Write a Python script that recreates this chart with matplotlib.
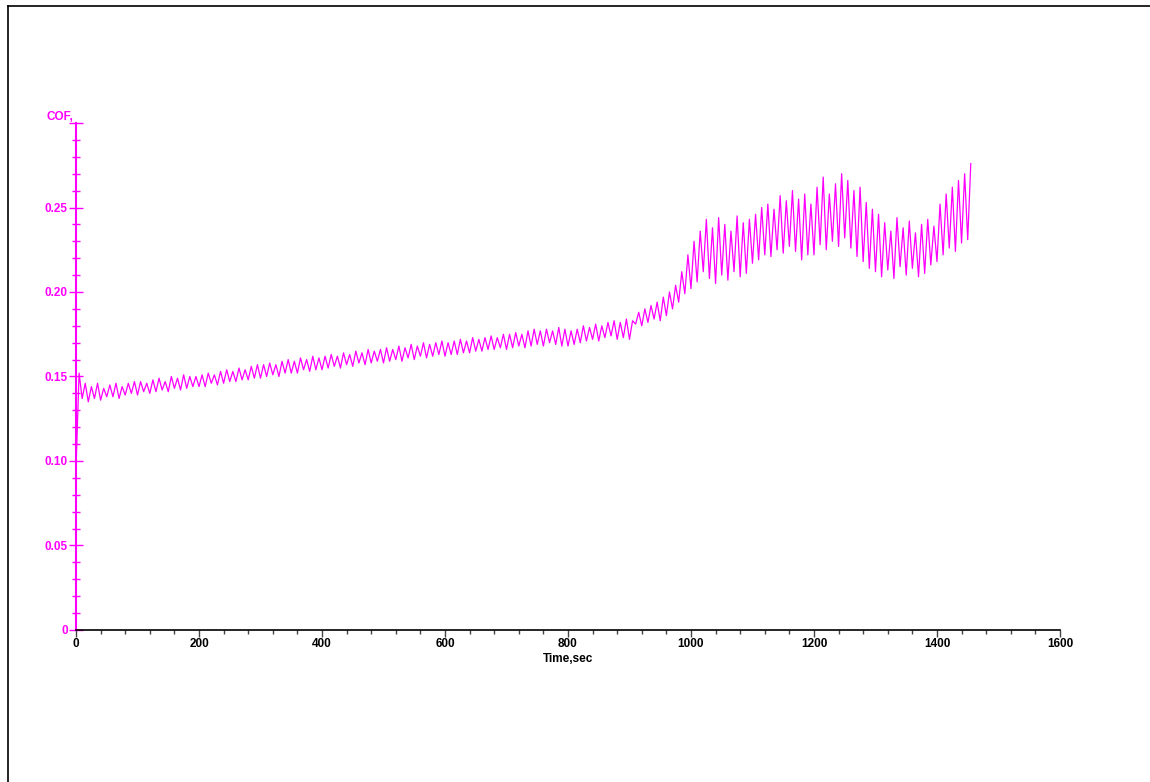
import numpy as np
import matplotlib.pyplot as plt
from matplotlib.ticker import MultipleLocator, FuncFormatter
from matplotlib.lines import Line2D

plt.rcParams['font.family'] = ['Liberation Sans', 'DejaVu Sans']

# time base of the readings (s), one high/low pair every 10 s
t_read = list(range(0, 1460, 10))

# upper peaks of the COF trace
cof_hi = [.152, .146, .144, .146, .143, .145, .146, .144, .146, .147,
          .147, .146, .148, .149, .147, .150, .149, .151, .150, .150,
          .151, .152, .151, .153, .154, .153, .155, .154, .156, .157,
          .157, .158, .157, .159, .160, .159, .161, .160, .162, .161,
          .162, .163, .162, .164, .163, .165, .164, .166, .165, .166,
          .167, .166, .168, .167, .169, .168, .170, .169, .170, .171,
          .170, .171, .172, .171, .173, .172, .173, .174, .173, .175,
          .175, .176, .175, .177, .178, .177, .178, .177, .179, .178,
          .177, .178, .180, .179, .181, .180, .182, .183, .182, .184,
          .183, .188, .190, .192, .194, .197, .200, .204, .212, .222,
          .230, .236, .243, .238, .244, .240, .236, .245, .241, .243,
          .246, .250, .252, .249, .257, .254, .260, .255, .258, .252,
          .262, .268, .258, .264, .270, .266, .260, .262, .253, .249,
          .246, .241, .236, .244, .238, .242, .235, .240, .243, .239,
          .252, .258, .262, .266, .270, .276]

# lower troughs of the COF trace
cof_lo = [.096, .137, .135, .137, .136, .138, .138, .137, .139, .140,
          .139, .141, .140, .141, .142, .141, .143, .142, .143, .144,
          .144, .144, .146, .145, .146, .147, .147, .148, .148, .149,
          .149, .150, .151, .150, .152, .152, .152, .154, .153, .154,
          .154, .155, .156, .155, .157, .156, .158, .157, .158, .159,
          .158, .159, .160, .159, .161, .160, .162, .161, .162, .163,
          .162, .163, .163, .164, .164, .165, .165, .166, .166, .167,
          .166, .167, .168, .167, .168, .169, .168, .170, .169, .168,
          .168, .169, .170, .171, .172, .171, .173, .174, .172, .173,
          .172, .181, .180, .182, .184, .183, .186, .190, .194, .199,
          .202, .206, .212, .208, .205, .210, .207, .212, .209, .211,
          .217, .219, .222, .221, .225, .223, .227, .224, .219, .222,
          .222, .228, .225, .230, .227, .232, .226, .221, .218, .214,
          .212, .209, .213, .208, .215, .210, .214, .209, .211, .216,
          .218, .222, .226, .224, .229, .231]

# zigzag: trough at each reading time, peak half a step later
t_zig = []
cof_zig = []
for t, h, l in zip(t_read, cof_hi, cof_lo):
    t_zig += [t, t + 5]
    cof_zig += [l, h]

fig = plt.figure(figsize=(11.5, 7.82), dpi=100)
ax = fig.add_axes([0.0661, 0.1944, 0.8556, 0.6483])

ax.plot(t_zig, cof_zig, color='#ff00ff', lw=0.9)

ax.set_xlim(0, 1600)
ax.set_ylim(0, 0.3)

for s in ['top', 'right']:
    ax.spines[s].set_visible(False)
ax.spines['left'].set_color('#ff00ff')
ax.spines['left'].set_linewidth(1.5)
ax.spines['bottom'].set_color('black')
ax.spines['bottom'].set_linewidth(1.2)

ax.xaxis.set_major_locator(MultipleLocator(200))
ax.xaxis.set_minor_locator(MultipleLocator(40))
ax.yaxis.set_major_locator(MultipleLocator(0.05))
ax.yaxis.set_minor_locator(MultipleLocator(0.01))

ax.yaxis.set_major_formatter(FuncFormatter(
    lambda v, p: '0' if abs(v) < 1e-9 else ('' if v > 0.29 else '%.2f' % v)))

ax.tick_params(axis='x', which='major', direction='out', length=5, width=1,
               color='#444444', labelsize=8.5, pad=1)
ax.tick_params(axis='x', which='minor', direction='out', length=3, width=1,
               color='#444444')
ax.tick_params(axis='y', which='major', direction='inout', length=10, width=1,
               color='#ff00ff', labelcolor='#ff00ff', labelsize=8.5, pad=1)
ax.tick_params(axis='y', which='minor', direction='inout', length=6, width=1,
               color='#ff00ff')
for lab in ax.get_xticklabels() + ax.get_yticklabels():
    lab.set_fontweight('bold')

ax.text(-4, 0.3, 'COF,', color='#ff00ff', fontsize=8.5, fontweight='bold',
        ha='right', va='bottom', transform=ax.transData)
ax.set_xlabel('Time,sec', fontsize=8.5, fontweight='bold', labelpad=2)

# outer frame (left and top edges)
fig.add_artist(Line2D([0.007, 0.007], [0, 0.9923], color='black', lw=1.2))
fig.add_artist(Line2D([0.007, 1.0], [0.9923, 0.9923], color='black', lw=1.2))

fig.savefig('out.png', dpi=100)
